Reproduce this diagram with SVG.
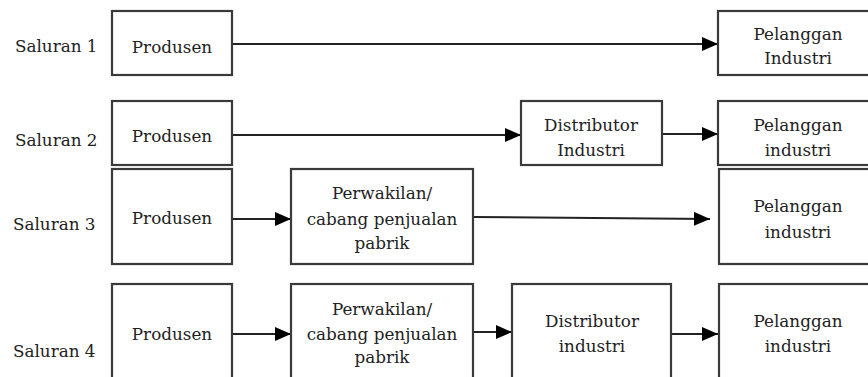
<svg xmlns="http://www.w3.org/2000/svg" width="868" height="377" viewBox="0 0 868 377">
<defs>
<marker id="ah" markerWidth="16" markerHeight="14" refX="16" refY="7" orient="auto" markerUnits="userSpaceOnUse">
<path d="M0,0 L16,7 L0,14 Z" fill="#000"/>
</marker>
<style>
.box{fill:#fff;stroke:#3a3a3a;stroke-width:2.2}
.t{font-family:"DejaVu Serif","Liberation Serif",serif;font-size:16.8px;fill:#222;text-anchor:middle}
.lab{font-family:"DejaVu Serif","Liberation Serif",serif;font-size:16.8px;fill:#222}
.c{stroke:#222;stroke-width:2;fill:none;marker-end:url(#ah)}
</style>
</defs>
<rect width="868" height="377" fill="#fff"/>
<g id="labels">
<text class="lab" x="15" y="52">Saluran 1</text>
<text class="lab" x="15" y="146">Saluran 2</text>
<text class="lab" x="13" y="230">Saluran 3</text>
<text class="lab" x="13" y="357">Saluran 4</text>
</g>
<g id="connectors">
<line class="c" x1="232" y1="44" x2="718" y2="44"/>
<line class="c" x1="232" y1="135" x2="521" y2="135"/>
<line class="c" x1="662" y1="134" x2="718" y2="134"/>
<line class="c" x1="232" y1="219" x2="291" y2="219"/>
<line class="c" x1="473" y1="217" x2="710" y2="219"/>
<line class="c" x1="232" y1="334" x2="291" y2="334"/>
<line class="c" x1="473" y1="332" x2="512" y2="332"/>
<line class="c" x1="671" y1="334" x2="718" y2="334"/>
</g>
<g id="r1-produsen"><rect class="box" x="112" y="11" width="120" height="64"/><text class="t" x="172" y="53">Produsen</text></g>
<g id="r1-pelanggan"><rect class="box" x="718" y="11" width="160" height="64"/><text class="t" x="798" y="40">Pelanggan</text><text class="t" x="798" y="64">Industri</text></g>
<g id="r2-produsen"><rect class="box" x="112" y="101" width="120" height="64"/><text class="t" x="172" y="142">Produsen</text></g>
<g id="r2-distributor"><rect class="box" x="521" y="101" width="141" height="64"/><text class="t" x="591" y="131">Distributor</text><text class="t" x="591" y="156">Industri</text></g>
<g id="r2-pelanggan"><rect class="box" x="718" y="101" width="160" height="64"/><text class="t" x="798" y="131">Pelanggan</text><text class="t" x="798" y="156">industri</text></g>
<g id="r3-produsen"><rect class="box" x="112" y="169" width="120" height="95"/><text class="t" x="172" y="224">Produsen</text></g>
<g id="r3-perwakilan"><rect class="box" x="291" y="169" width="182" height="95"/><text class="t" x="382" y="199">Perwakilan/</text><text class="t" x="382" y="225">cabang penjualan</text><text class="t" x="382" y="249">pabrik</text></g>
<g id="r3-pelanggan"><rect class="box" x="719" y="169" width="160" height="95"/><text class="t" x="798" y="212">Pelanggan</text><text class="t" x="798" y="238">industri</text></g>
<g id="r4-produsen"><rect class="box" x="112" y="284" width="120" height="110"/><text class="t" x="172" y="340">Produsen</text></g>
<g id="r4-perwakilan"><rect class="box" x="291" y="284" width="182" height="110"/><text class="t" x="382" y="315">Perwakilan/</text><text class="t" x="382" y="340">cabang penjualan</text><text class="t" x="382" y="363">pabrik</text></g>
<g id="r4-distributor"><rect class="box" x="512" y="284" width="159" height="110"/><text class="t" x="592" y="327">Distributor</text><text class="t" x="592" y="352">industri</text></g>
<g id="r4-pelanggan"><rect class="box" x="719" y="284" width="160" height="110"/><text class="t" x="798" y="327">Pelanggan</text><text class="t" x="798" y="352">industri</text></g>
</svg>
